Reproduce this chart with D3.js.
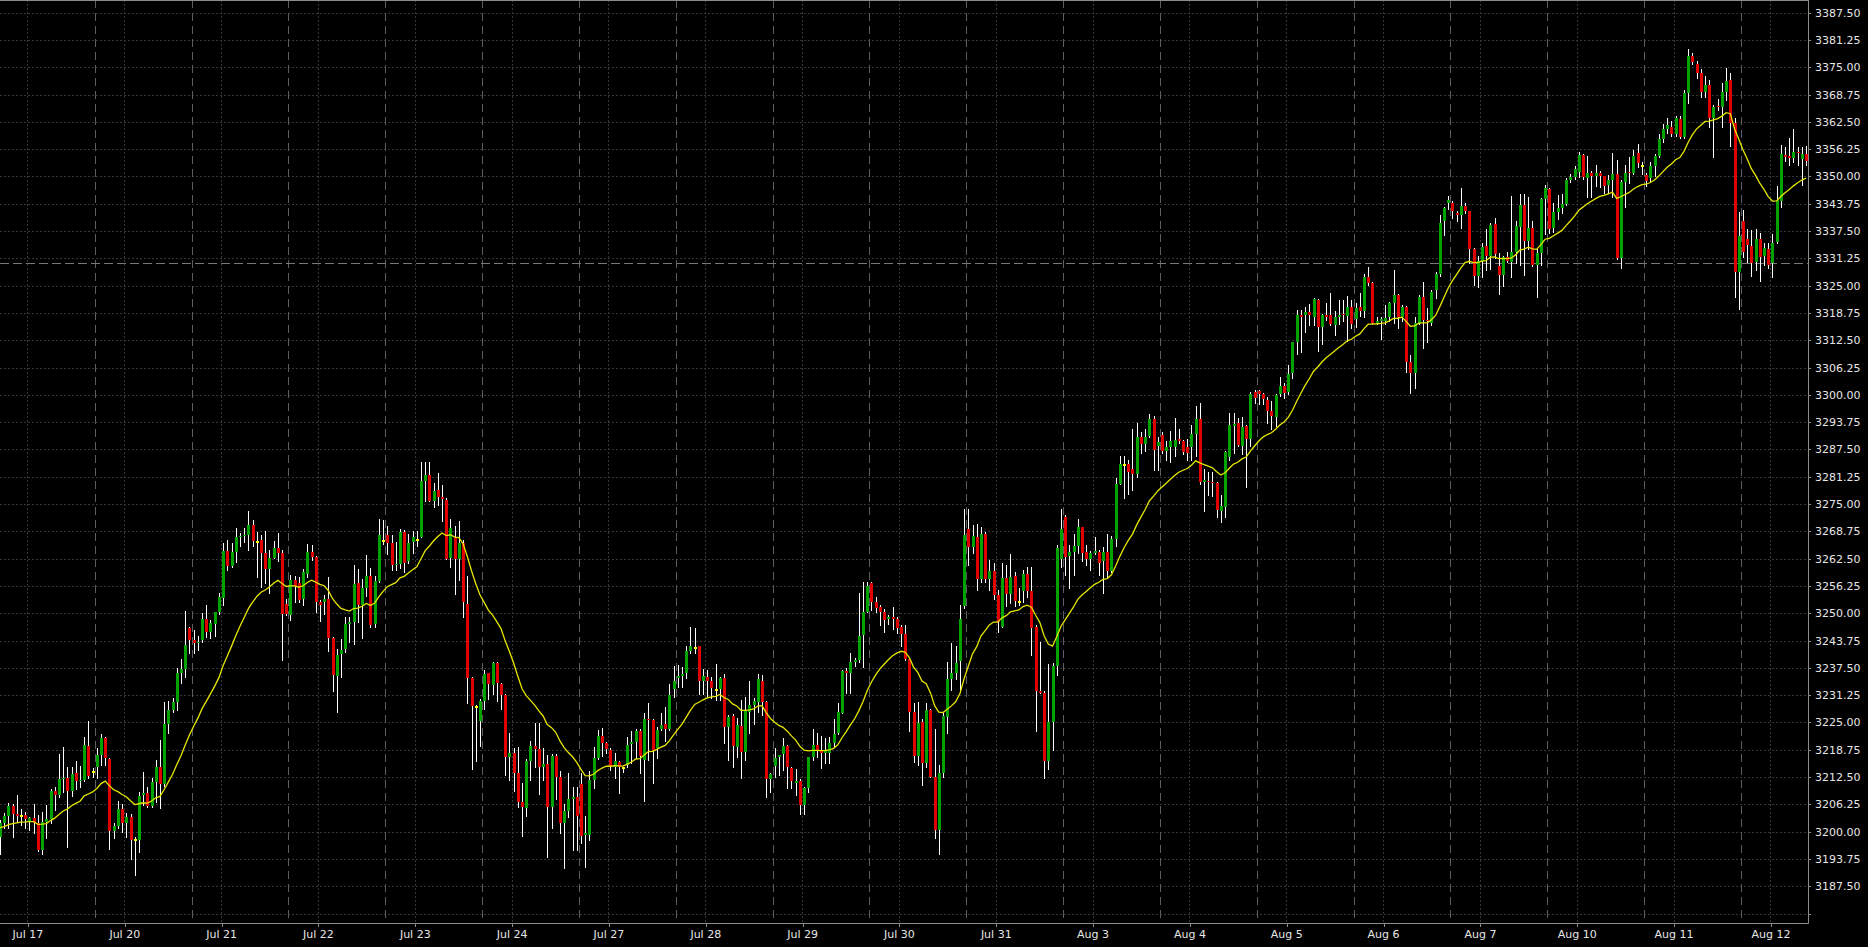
<!DOCTYPE html>
<html><head><meta charset="utf-8">
<script src="https://cdn.jsdelivr.net/npm/d3@7"></script>
<style>html,body{margin:0;padding:0;background:#000;overflow:hidden}</style>
</head><body>
<svg id="chart" width="1868" height="947"></svg>
<script>
// ---- DATA: hourly bars [open, high, low, close], one array per trading day ----
const dayLabels = ["Jul 17","Jul 20","Jul 21","Jul 22","Jul 23","Jul 24","Jul 27","Jul 28","Jul 29","Jul 30","Jul 31","Aug 3","Aug 4","Aug 5","Aug 6","Aug 7","Aug 10","Aug 11","Aug 12"];
const jul17 = [[3198.7,3202.7,3194.9,3202.1],[3202.1,3204.2,3200.8,3203.6],[3203.6,3206.5,3200.8,3205.9],[3205.9,3206.3,3198.7,3204.0],[3204.0,3208.4,3202.3,3203.7],[3203.7,3205.1,3201.5,3203.7],[3203.8,3204.4,3200.8,3202.8],[3202.5,3203.4,3200.4,3203.1],[3203.1,3206.3,3199.8,3202.1],[3202.1,3203.8,3195.5,3195.7],[3195.7,3204.4,3194.9,3202.3],[3202.3,3206.1,3198.5,3202.8],[3202.8,3209.7,3202.1,3209.3],[3209.3,3210.2,3205.0,3208.5],[3208.5,3217.8,3208.0,3212.0],[3212.0,3219.3,3209.2,3212.2],[3212.2,3214.9,3196.4,3209.3],[3209.3,3214.9,3208.2,3213.2],[3213.4,3216.3,3209.7,3211.5],[3211.5,3215.0,3210.2,3211.8],[3211.8,3221.6,3211.5,3219.8],[3219.6,3225.4,3212.2,3212.7],[3213.7,3214.5,3212.6,3213.7]];
const jul20 = [[3214.7,3219.2,3212.2,3217.5],[3217.6,3222.3,3215.3,3221.4],[3221.4,3221.6,3215.3,3216.9],[3216.6,3216.8,3196.0,3200.2],[3200.2,3202.1,3198.5,3201.3],[3201.3,3207.0,3200.8,3205.1],[3205.1,3206.3,3200.0,3202.1],[3202.1,3204.2,3198.9,3203.4],[3203.4,3204.0,3193.7,3198.1],[3198.0,3198.7,3190.1,3198.0],[3198.1,3209.2,3195.4,3208.2],[3208.4,3213.7,3206.1,3208.8],[3208.8,3210.2,3205.7,3205.9],[3205.9,3212.2,3205.7,3211.4],[3211.4,3216.4,3206.9,3214.9],[3214.7,3221.0,3205.4,3211.0],[3211.0,3229.8,3210.4,3224.7],[3224.7,3229.9,3222.5,3227.9],[3227.9,3230.5,3227.5,3229.8],[3229.8,3237.4,3227.9,3236.4],[3236.4,3239.5,3234.1,3237.2],[3237.2,3250.6,3235.5,3242.7],[3246.7,3246.9,3241.0,3243.9]];
const jul21 = [[3243.9,3246.2,3240.8,3243.3],[3243.1,3244.8,3241.6,3243.5],[3243.9,3250.0,3243.5,3248.8],[3248.6,3251.9,3244.6,3245.8],[3245.8,3248.5,3244.3,3247.7],[3247.6,3250.4,3244.8,3250.2],[3250.2,3254.7,3249.8,3253.7],[3253.4,3266.0,3251.9,3264.3],[3264.3,3266.8,3259.9,3260.9],[3260.9,3266.0,3260.7,3264.1],[3264.1,3269.5,3261.8,3267.5],[3267.4,3268.3,3265.3,3267.8],[3267.7,3269.5,3266.4,3268.0],[3268.0,3273.4,3264.6,3270.2],[3270.2,3271.4,3265.4,3266.6],[3266.4,3268.7,3258.2,3266.4],[3266.8,3267.9,3256.0,3263.9],[3263.7,3268.9,3257.0,3260.1],[3260.1,3264.5,3254.6,3262.7],[3262.7,3266.6,3262.6,3265.0],[3265.0,3268.3,3262.0,3263.9],[3263.9,3264.5,3239.3,3249.8],[3252.1,3253.2,3249.6,3249.8]];
const jul22 = [[3249.6,3258.8,3248.5,3257.6],[3257.6,3258.5,3252.7,3256.3],[3256.9,3258.4,3252.7,3253.0],[3253.3,3260.2,3251.9,3259.4],[3259.0,3265.9,3258.4,3264.1],[3264.1,3265.6,3262.2,3262.8],[3262.8,3263.1,3250.2,3252.7],[3252.5,3253.1,3248.3,3251.9],[3252.5,3254.2,3249.8,3253.3],[3253.3,3258.2,3241.4,3244.4],[3244.4,3244.6,3232.1,3235.9],[3235.6,3241.8,3227.3,3240.5],[3240.7,3244.1,3235.5,3241.6],[3241.8,3249.2,3241.2,3247.6],[3247.6,3249.2,3243.5,3247.9],[3248.0,3261.1,3243.0,3256.6],[3256.9,3260.2,3247.9,3251.9],[3251.9,3257.8,3244.4,3255.9],[3255.9,3263.4,3254.0,3258.5],[3258.5,3260.3,3246.9,3247.3],[3247.6,3258.5,3246.9,3257.4],[3257.4,3271.7,3257.2,3267.9],[3266.6,3271.4,3265.9,3266.6]];
const jul23 = [[3267.9,3270.0,3263.6,3266.2],[3266.2,3267.9,3259.8,3261.1],[3261.0,3266.4,3259.9,3261.3],[3261.3,3269.2,3260.3,3268.7],[3268.7,3269.1,3259.5,3261.6],[3262.0,3268.2,3261.5,3266.2],[3266.4,3268.9,3263.9,3267.4],[3266.8,3268.9,3265.3,3266.8],[3267.5,3284.6,3267.4,3280.3],[3280.3,3284.6,3275.8,3281.7],[3281.7,3284.6,3275.6,3275.6],[3275.6,3279.8,3274.4,3277.9],[3278.2,3282.1,3274.8,3276.7],[3276.7,3279.4,3271.2,3276.1],[3275.9,3276.3,3262.4,3262.4],[3262.6,3271.7,3260.7,3269.6],[3267.2,3270.0,3254.4,3262.4],[3262.4,3271.1,3257.6,3266.2],[3266.2,3266.8,3249.2,3252.5],[3252.1,3258.6,3229.5,3235.3],[3235.3,3235.5,3214.3,3228.8],[3228.6,3229.0,3216.3,3228.6],[3225.4,3230.3,3219.6,3230.0]];
const jul24 = [[3230.0,3237.0,3228.2,3236.1],[3236.3,3236.4,3230.3,3233.8],[3233.6,3238.9,3231.5,3238.7],[3238.6,3238.9,3230.0,3234.1],[3233.8,3234.0,3228.1,3231.3],[3231.3,3231.5,3213.0,3217.0],[3217.0,3222.5,3211.9,3218.1],[3218.1,3219.1,3209.4,3213.5],[3213.5,3219.5,3205.7,3206.9],[3206.9,3211.1,3199.0,3205.6],[3205.5,3216.6,3203.7,3216.2],[3216.2,3220.8,3211.9,3219.6],[3219.6,3224.8,3214.9,3218.9],[3218.9,3224.8,3208.6,3214.9],[3214.9,3219.1,3211.9,3215.5],[3215.5,3217.6,3194.1,3205.7],[3205.7,3217.8,3200.9,3217.3],[3217.3,3217.8,3207.4,3212.6],[3212.6,3213.8,3199.6,3201.9],[3202.1,3206.4,3191.6,3204.7],[3204.7,3213.5,3203.4,3207.4],[3207.4,3210.2,3195.8,3208.0],[3208.0,3210.2,3195.8,3203.5]];
const jul27 = [[3210.9,3213.5,3197.5,3199.1],[3199.3,3203.6,3192.0,3199.6],[3199.3,3213.8,3198.0,3211.9],[3211.9,3219.5,3209.9,3216.8],[3216.8,3223.3,3216.6,3221.9],[3221.9,3223.7,3217.3,3220.2],[3220.2,3220.6,3218.1,3218.9],[3218.7,3219.1,3214.1,3214.9],[3214.9,3218.1,3212.2,3216.2],[3216.0,3216.2,3208.9,3214.9],[3214.5,3214.9,3213.7,3214.5],[3215.3,3221.6,3214.7,3219.9],[3220.1,3223.1,3215.7,3220.5],[3220.5,3223.4,3216.8,3223.1],[3223.1,3223.4,3213.5,3217.3],[3216.4,3227.2,3207.1,3225.8],[3225.9,3229.4,3216.4,3225.6],[3225.6,3225.9,3211.2,3218.7],[3219.1,3224.0,3216.8,3223.3],[3223.4,3227.2,3223.2,3224.4],[3224.7,3228.5,3220.8,3223.4],[3223.4,3233.8,3223.3,3231.3],[3232.6,3237.9,3230.9,3234.4]];
const jul28 = [[3235.3,3238.2,3233.2,3235.6],[3235.6,3237.8,3233.1,3236.1],[3236.4,3242.4,3235.1,3241.3],[3241.3,3246.8,3241.0,3242.4],[3242.1,3246.6,3240.8,3242.1],[3242.4,3242.6,3231.5,3234.4],[3234.6,3237.2,3231.5,3235.6],[3235.5,3237.0,3230.9,3234.6],[3234.6,3235.5,3230.5,3233.0],[3232.5,3238.4,3230.1,3232.5],[3232.6,3235.5,3230.1,3235.3],[3235.3,3236.1,3220.2,3223.9],[3223.9,3226.7,3216.4,3226.3],[3226.5,3226.9,3214.9,3219.6],[3219.5,3226.0,3217.2,3224.4],[3224.2,3230.1,3212.4,3218.3],[3218.3,3230.9,3216.4,3227.7],[3227.5,3234.4,3222.7,3229.0],[3228.9,3230.5,3224.6,3230.0],[3229.8,3236.1,3227.5,3235.0],[3234.6,3235.9,3226.7,3229.8],[3229.8,3230.0,3208.0,3212.0],[3212.0,3213.5,3209.2,3213.2]];
const jul29 = [[3215.0,3219.1,3212.6,3216.9],[3217.1,3217.6,3213.0,3217.5],[3217.9,3221.4,3214.1,3219.6],[3219.6,3219.8,3209.9,3214.7],[3214.5,3214.7,3209.9,3211.7],[3211.2,3214.3,3208.4,3211.7],[3211.7,3212.0,3204.1,3206.1],[3206.1,3210.3,3204.1,3210.1],[3210.1,3217.2,3209.2,3217.0],[3217.1,3223.4,3216.4,3219.9],[3219.9,3222.5,3217.2,3218.7],[3218.7,3221.8,3214.5,3218.1],[3218.1,3221.4,3215.8,3218.7],[3218.1,3221.6,3215.8,3220.2],[3220.2,3225.9,3219.6,3222.4],[3222.5,3229.4,3222.4,3227.5],[3227.2,3237.0,3227.2,3236.9],[3236.9,3237.4,3231.7,3236.4],[3236.3,3241.0,3231.7,3238.8],[3238.9,3239.7,3237.9,3239.3],[3239.3,3254.6,3238.9,3244.8],[3245.0,3257.2,3237.8,3250.4],[3250.4,3257.2,3250.2,3256.2]];
const jul30 = [[3257.0,3257.2,3250.8,3252.7],[3252.7,3253.8,3250.4,3251.3],[3251.4,3251.9,3247.3,3250.4],[3250.4,3250.9,3245.8,3248.5],[3248.6,3249.6,3247.5,3249.1],[3249.1,3251.4,3246.3,3248.8],[3248.6,3249.1,3245.6,3246.7],[3246.8,3247.3,3242.4,3245.3],[3245.3,3247.3,3239.4,3239.6],[3239.6,3240.1,3223.1,3227.5],[3227.5,3229.4,3216.0,3217.3],[3217.3,3229.8,3215.3,3224.8],[3225.0,3225.9,3210.7,3215.7],[3215.8,3229.4,3214.9,3227.9],[3227.9,3228.1,3212.6,3212.6],[3212.6,3223.4,3198.5,3200.4],[3200.4,3215.3,3195.0,3213.4],[3213.4,3227.1,3212.6,3226.5],[3226.3,3238.9,3222.7,3234.9],[3234.9,3243.3,3232.4,3236.3],[3236.4,3242.5,3234.9,3238.7],[3239.1,3251.9,3232.4,3248.8],[3251.7,3273.8,3251.1,3267.9]];
const jul31 = [[3269.2,3273.8,3261.0,3265.1],[3265.1,3270.2,3263.7,3267.7],[3267.5,3270.4,3255.3,3257.8],[3257.8,3269.8,3257.2,3268.1],[3268.1,3268.5,3257.2,3257.8],[3257.8,3262.2,3255.3,3259.7],[3259.7,3261.4,3253.2,3254.2],[3254.2,3255.3,3245.8,3247.9],[3246.9,3261.4,3246.8,3258.1],[3258.1,3261.0,3251.7,3254.4],[3254.4,3263.6,3252.3,3258.4],[3258.5,3259.5,3251.7,3252.9],[3252.6,3255.9,3251.9,3252.6],[3255.0,3259.9,3252.7,3259.0],[3259.0,3260.7,3253.8,3255.0],[3255.0,3260.7,3240.4,3246.7],[3246.8,3247.3,3223.1,3232.2],[3232.2,3243.5,3231.7,3231.8],[3231.8,3232.1,3212.4,3216.2],[3216.2,3238.5,3214.3,3225.0],[3225.0,3238.7,3218.6,3237.9],[3237.9,3265.6,3235.9,3264.9],[3262.4,3273.8,3260.7,3269.4]];
const aug3 = [[3272.0,3272.4,3258.8,3263.0],[3263.1,3265.6,3255.7,3264.1],[3264.1,3268.1,3258.8,3265.4],[3265.4,3271.5,3263.7,3269.7],[3269.7,3269.8,3262.0,3263.7],[3264.0,3265.6,3261.0,3262.4],[3262.4,3264.2,3259.9,3263.9],[3263.9,3267.5,3263.6,3264.3],[3264.1,3264.5,3258.8,3261.6],[3262.0,3265.2,3254.7,3264.1],[3264.1,3268.1,3258.2,3259.7],[3259.7,3267.7,3259.5,3267.0],[3267.0,3281.0,3265.4,3279.7],[3279.7,3285.9,3279.5,3284.2],[3283.9,3286.0,3276.5,3283.9],[3284.2,3285.1,3277.3,3282.4],[3283.0,3292.1,3278.2,3281.9],[3281.9,3293.6,3281.1,3290.3],[3290.3,3291.6,3286.6,3288.8],[3288.8,3292.3,3287.2,3290.3],[3290.6,3295.6,3290.4,3294.4],[3294.4,3295.2,3282.8,3287.4],[3288.3,3290.4,3282.7,3289.3]];
const aug4 = [[3290.8,3291.4,3286.6,3287.2],[3287.2,3289.5,3285.2,3288.0],[3288.0,3291.8,3284.7,3289.5],[3288.1,3294.6,3285.9,3289.7],[3289.8,3292.1,3288.9,3289.5],[3289.5,3289.7,3286.5,3287.0],[3288.0,3289.8,3285.1,3286.8],[3288.1,3293.1,3285.1,3291.0],[3291.0,3297.5,3286.0,3294.4],[3294.4,3298.1,3279.6,3280.1],[3280.1,3283.0,3273.5,3280.5],[3280.4,3282.4,3277.1,3280.1],[3280.1,3282.4,3276.9,3279.8],[3279.8,3280.1,3272.1,3273.7],[3273.5,3277.1,3271.0,3274.6],[3274.4,3287.2,3272.1,3287.0],[3285.7,3295.9,3285.1,3293.1],[3292.9,3295.8,3286.6,3293.3],[3293.5,3294.6,3288.3,3288.5],[3288.3,3294.9,3286.5,3292.7],[3292.9,3293.1,3278.8,3289.8],[3289.8,3300.7,3288.2,3300.1],[3300.6,3301.2,3298.1,3299.4]];
const aug5 = [[3300.9,3301.1,3297.9,3300.1],[3300.2,3300.4,3297.9,3299.0],[3298.8,3299.6,3293.5,3296.4],[3296.4,3298.5,3292.1,3295.2],[3295.0,3300.2,3292.9,3300.0],[3300.2,3304.2,3299.8,3302.0],[3302.0,3302.8,3299.2,3300.5],[3300.7,3306.9,3300.2,3304.8],[3305.1,3312.2,3303.8,3312.0],[3312.0,3319.4,3309.4,3318.3],[3318.2,3319.4,3309.9,3317.8],[3318.2,3320.2,3314.3,3319.0],[3319.0,3320.8,3316.0,3318.2],[3317.9,3322.1,3316.0,3321.9],[3321.7,3321.9,3310.1,3315.5],[3315.5,3318.5,3311.7,3318.3],[3318.3,3321.0,3317.2,3317.9],[3318.2,3323.3,3316.0,3316.2],[3315.9,3319.1,3313.7,3317.9],[3317.9,3321.7,3316.2,3318.3],[3318.5,3321.7,3316.8,3318.2],[3318.1,3322.7,3312.4,3320.2],[3320.2,3321.7,3315.2,3316.2]];
const aug6 = [[3317.3,3321.0,3315.6,3319.8],[3320.1,3323.3,3318.1,3319.1],[3319.1,3327.7,3317.9,3326.9],[3326.9,3329.2,3325.2,3325.7],[3325.7,3325.9,3316.4,3316.5],[3316.5,3317.9,3316.3,3316.9],[3316.8,3317.9,3312.9,3317.3],[3316.8,3320.6,3316.2,3317.7],[3317.8,3321.3,3316.8,3321.1],[3321.0,3328.5,3316.4,3322.9],[3322.9,3323.1,3315.2,3317.9],[3317.9,3320.6,3316.8,3320.2],[3320.2,3320.4,3305.3,3307.6],[3307.6,3309.1,3300.5,3305.1],[3305.1,3317.9,3301.5,3316.5],[3316.5,3322.9,3316.2,3322.3],[3322.3,3325.9,3310.7,3317.2],[3317.2,3319.8,3312.0,3316.8],[3316.4,3324.0,3316.0,3323.6],[3323.9,3328.2,3322.1,3327.7],[3327.7,3341.2,3327.2,3339.4],[3339.7,3342.9,3336.6,3342.7],[3343.9,3345.5,3342.5,3344.6]];
const aug7 = [[3343.9,3344.5,3340.4,3342.0],[3341.7,3342.0,3339.9,3341.2],[3341.2,3347.3,3338.1,3343.2],[3343.2,3343.9,3341.7,3342.0],[3342.0,3342.2,3330.3,3333.4],[3333.4,3333.6,3325.2,3327.2],[3327.2,3331.8,3324.6,3330.7],[3330.7,3334.7,3326.9,3333.8],[3334.1,3337.9,3328.5,3331.8],[3331.8,3339.4,3328.8,3338.9],[3339.1,3340.4,3331.3,3332.3],[3329.5,3332.4,3323.1,3327.5],[3327.5,3331.8,3324.9,3331.6],[3331.6,3332.8,3330.5,3330.7],[3330.5,3345.5,3327.1,3332.8],[3332.8,3339.9,3330.3,3338.7],[3338.5,3346.1,3329.7,3343.5],[3343.5,3346.1,3327.5,3335.3],[3335.3,3345.4,3333.5,3338.1],[3338.1,3339.9,3329.5,3329.7],[3329.7,3333.5,3322.3,3332.4],[3332.4,3345.0,3329.7,3344.8],[3344.8,3348.1,3336.8,3347.3]];
const aug10 = [[3347.1,3347.3,3337.0,3337.9],[3338.1,3344.0,3337.4,3341.9],[3341.9,3345.8,3340.2,3342.7],[3342.7,3346.1,3341.7,3343.7],[3343.7,3349.6,3343.5,3349.2],[3349.2,3350.6,3348.8,3349.8],[3349.8,3352.3,3349.4,3351.6],[3351.1,3355.7,3349.9,3354.9],[3354.9,3355.1,3349.4,3349.8],[3349.6,3354.7,3345.2,3350.9],[3350.7,3351.3,3345.4,3350.0],[3350.0,3352.6,3347.8,3350.7],[3350.9,3351.3,3347.7,3350.0],[3350.0,3350.2,3346.2,3347.9],[3348.1,3350.3,3346.3,3349.2],[3349.2,3355.3,3345.4,3350.5],[3350.5,3353.8,3331.0,3331.4],[3331.4,3349.1,3329.0,3348.8],[3348.8,3352.6,3343.1,3350.9],[3351.1,3354.5,3348.4,3350.7],[3350.7,3356.1,3350.6,3354.7],[3355.3,3357.4,3352.1,3353.0],[3352.4,3353.2,3350.6,3352.4]];
const aug11 = [[3350.3,3350.9,3347.8,3349.0],[3349.6,3353.4,3348.8,3352.4],[3352.4,3355.2,3350.1,3354.7],[3354.7,3359.7,3354.5,3358.5],[3358.5,3362.0,3358.0,3360.8],[3360.8,3363.3,3359.9,3361.8],[3361.4,3362.8,3359.3,3359.7],[3359.7,3363.9,3359.3,3363.3],[3363.1,3363.9,3358.7,3359.0],[3359.0,3369.7,3358.8,3369.2],[3369.2,3379.1,3366.9,3377.6],[3377.6,3378.2,3375.8,3376.1],[3375.8,3376.5,3372.5,3373.6],[3373.6,3374.5,3368.3,3369.4],[3369.4,3372.9,3368.1,3371.0],[3371.0,3372.2,3361.4,3363.3],[3363.3,3366.4,3354.5,3365.8],[3366.1,3367.7,3365.2,3365.8],[3366.0,3371.5,3361.4,3369.4],[3369.4,3374.8,3367.5,3371.9],[3372.1,3373.8,3357.0,3362.3],[3362.3,3363.3,3322.5,3328.2],[3328.2,3341.9,3319.6,3336.4]];
const aug12 = [[3339.7,3342.3,3331.6,3332.6],[3335.8,3337.9,3330.5,3334.3],[3334.1,3337.8,3327.2,3330.3],[3330.5,3337.9,3328.6,3335.6],[3335.6,3337.0,3326.1,3331.6],[3331.8,3334.7,3329.7,3333.6],[3333.3,3334.7,3329.0,3329.7],[3330.1,3336.8,3327.1,3334.7],[3334.9,3347.8,3334.7,3344.6],[3344.5,3357.2,3343.1,3355.2],[3354.9,3356.8,3353.6,3354.5],[3354.7,3358.7,3352.6,3354.2],[3354.2,3360.8,3353.2,3355.5],[3355.7,3356.8,3352.6,3355.3],[3353.9,3356.8,3348.0,3355.1],[3355.1,3357.0,3352.6,3353.6]];
const days = [jul17,jul20,jul21,jul22,jul23,jul24,jul27,jul28,jul29,jul30,jul31,aug3,aug4,aug5,aug6,aug7,aug10,aug11,aug12];

// price axis labels and grid levels
const priceLabels = ["3387.50","3381.25","3375.00","3368.75","3362.50","3356.25","3350.00","3343.75","3337.50","3331.25","3325.00","3318.75","3312.50","3306.25","3300.00","3293.75","3287.50","3281.25","3275.00","3268.75","3262.50","3256.25","3250.00","3243.75","3237.50","3231.25","3225.00","3218.75","3212.50","3206.25","3200.00","3193.75","3187.50"];
const gridLevels = priceLabels.map(Number).concat([3181.25]);
const priceRange = [3179.1, 3390.4];
const horizontalLinePrice = 3330.1;
const maPeriod = 20;        // exponential moving average of close
const maStart = 3200.8;     // MA value at the left edge

// ---- LAYOUT ----
const svg = d3.select("#chart");
const W = 1868, H = 947, plotRight = 1808, plotBottom = 923;
const barStep = 4.21;
const labelBar = 7;

svg.append("rect").attr("width", W).attr("height", H).attr("fill", "#000");

const bars = [];
const dayStart = [];
days.forEach((d, di) => { dayStart.push(bars.length); d.forEach(b => bars.push({o:b[0], h:b[1], l:b[2], c:b[3]})); });
const N = bars.length;

const x = d3.scaleLinear().domain([0, N - 1]).range([0, (N - 1) * barStep]);
const y = d3.scaleLinear().domain(priceRange).range([plotBottom, 0]);

// EMA of closes
const alpha = 2 / (maPeriod + 1);
let prev = maStart;
const ma = bars.map(b => (prev = prev + alpha * (b.c - prev)));

const defs = svg.append("defs");
defs.append("clipPath").attr("id", "plotclip").append("rect")
  .attr("x", 0).attr("y", 0).attr("width", plotRight).attr("height", plotBottom);

const plot = svg.append("g").attr("clip-path", "url(#plotclip)");

// horizontal dotted grid
plot.selectAll("line.hg").data(gridLevels).enter().append("line")
  .attr("x1", 0).attr("x2", plotRight)
  .attr("y1", d => Math.round(y(d)) + 0.5).attr("y2", d => Math.round(y(d)) + 0.5)
  .attr("stroke", "#363636").attr("stroke-width", 1).attr("stroke-dasharray", "2,2");

// vertical dotted grid at label bars
plot.selectAll("line.vg").data(dayStart).enter().append("line")
  .attr("x1", d => Math.round(x(d + labelBar) - 2) + 0.5).attr("x2", d => Math.round(x(d + labelBar) - 2) + 0.5)
  .attr("y1", 0).attr("y2", plotBottom)
  .attr("stroke", "#363636").attr("stroke-width", 1).attr("stroke-dasharray", "2,2");

// day separators (dashed)
plot.selectAll("line.sep").data(dayStart.slice(1)).enter().append("line")
  .attr("x1", d => Math.round(x(d) - barStep / 2) + 0.5).attr("x2", d => Math.round(x(d) - barStep / 2) + 0.5)
  .attr("y1", 0).attr("y2", plotBottom)
  .attr("stroke", "#5e5e5e").attr("stroke-width", 1).attr("stroke-dasharray", "8,5");

// horizontal dashed price line
plot.append("line")
  .attr("x1", 0).attr("x2", plotRight)
  .attr("y1", Math.round(y(horizontalLinePrice)) + 0.5).attr("y2", Math.round(y(horizontalLinePrice)) + 0.5)
  .attr("stroke", "#777").attr("stroke-width", 1).attr("stroke-dasharray", "9,4");

// wicks
plot.selectAll("line.wick").data(bars).enter().append("line")
  .attr("x1", (d, i) => Math.round(x(i)) + 0.5).attr("x2", (d, i) => Math.round(x(i)) + 0.5)
  .attr("y1", d => Math.round(y(Math.max(d.h, d.o, d.c)))).attr("y2", d => Math.round(y(Math.min(d.l, d.o, d.c))) + 1)
  .attr("stroke", "#ffffff").attr("stroke-width", 1);

// bodies
plot.selectAll("rect.body").data(bars).enter().append("rect")
  .attr("x", (d, i) => Math.round(x(i)) - 1)
  .attr("width", 3)
  .attr("y", d => d.o === d.c ? Math.round(y(d.o)) - 1 : Math.round(y(Math.max(d.o, d.c))))
  .attr("height", d => d.o === d.c ? 2 : Math.max(1, Math.round(y(Math.min(d.o, d.c))) - Math.round(y(Math.max(d.o, d.c)))))
  .attr("fill", d => d.o === d.c ? "#ffff00" : (d.c > d.o ? "#00a300" : "#e00000"));

// moving average
plot.append("path")
  .datum(ma)
  .attr("d", d3.line().x((d, i) => x(i)).y(d => y(d)))
  .attr("fill", "none").attr("stroke", "#e6e600").attr("stroke-width", 1.3);

// frame
svg.append("line").attr("x1", 0).attr("x2", plotRight + 0.5).attr("y1", plotBottom + 0.5).attr("y2", plotBottom + 0.5).attr("stroke", "#8c8c8c");
svg.append("line").attr("x1", plotRight + 0.5).attr("x2", plotRight + 0.5).attr("y1", 0).attr("y2", plotBottom + 0.5).attr("stroke", "#8c8c8c");
svg.append("line").attr("x1", 0).attr("x2", plotRight + 0.5).attr("y1", 0.5).attr("y2", 0.5).attr("stroke", "#8c8c8c");

// price axis ticks + labels
svg.selectAll("line.yt").data(gridLevels).enter().append("line")
  .attr("x1", plotRight + 0.5).attr("x2", plotRight + 3)
  .attr("y1", d => Math.round(y(d)) + 0.5).attr("y2", d => Math.round(y(d)) + 0.5)
  .attr("stroke", "#8c8c8c");
svg.selectAll("text.yl").data(priceLabels).enter().append("text")
  .attr("x", 1815).attr("y", d => Math.round(y(+d)) + 4)
  .attr("fill", "#e6e6e6").attr("font-family", "DejaVu Sans, sans-serif").attr("font-size", "11px")
  .text(d => d);

// time axis ticks + labels
svg.selectAll("line.xt").data(dayStart).enter().append("line")
  .attr("x1", d => Math.round(x(d + labelBar) - 1.5) + 0.5).attr("x2", d => Math.round(x(d + labelBar) - 1.5) + 0.5)
  .attr("y1", plotBottom + 0.5).attr("y2", plotBottom + 4)
  .attr("stroke", "#8c8c8c");
svg.selectAll("text.xl").data(dayStart).enter().append("text")
  .attr("x", d => x(d + labelBar) - 1.5).attr("y", 938)
  .attr("text-anchor", "middle")
  .attr("fill", "#e6e6e6").attr("font-family", "DejaVu Sans, sans-serif").attr("font-size", "11px")
  .text((d, i) => dayLabels[i]);
</script>
</body></html>
